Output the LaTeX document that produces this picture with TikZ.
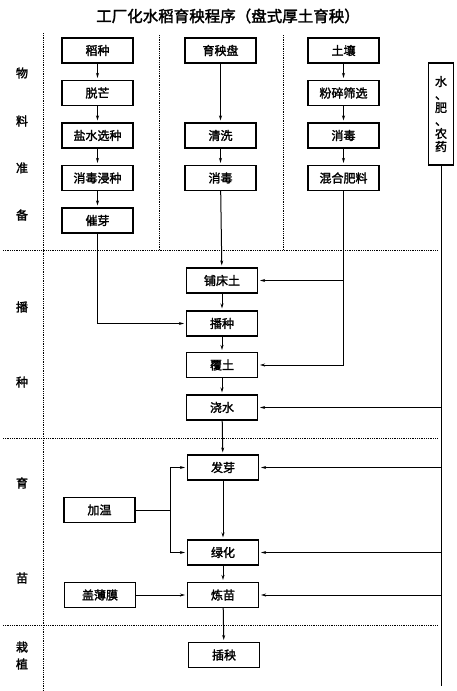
\documentclass[tikz,border=0pt]{standalone}
\usepackage{fontspec}
\newfontfamily\cjk[AutoFakeBold=2]{Noto Sans CJK SC}
\usetikzlibrary{arrows.meta,positioning}

\tikzset{
  stagebox/.style={draw, line width=1.1pt, minimum width=71pt, minimum height=25pt,
                   inner sep=1pt, font=\cjk\bfseries\fontsize{12}{14}\selectfont},
  flow/.style={line width=1pt, -{Stealth[length=5pt,width=3pt]}, shorten >=2pt},
  feed/.style={line width=1pt},
  sepline/.style={densely dotted, thick},
  stagelab/.style={font=\cjk\bfseries\fontsize{12}{14}\selectfont}
}

\begin{document}
\begin{tikzpicture}[x=1pt,y=-1pt]
\useasboundingbox (0,0) rectangle (457,691);
% Title
\node[font=\cjk\bfseries\fontsize{15.5}{18}\selectfont] (title) at (228,16) {工厂化水稻育秧程序（盘式厚土育秧）};
% Dotted separators
\draw[sepline] (43,33) -- (43,691);
\draw[sepline] (159,35) -- (159,250);
\draw[sepline] (283,35) -- (283,250);
\foreach \yy in {250,438,625} {
  \draw[sepline] (3,\yy) -- (438,\yy);
}
% Stage labels on the left
\foreach \txt/\yy in {物/73, 料/121, 准/168, 备/215, 播/307, 种/382, 育/483, 苗/578, 栽/647, 植/664} {
  \node[stagelab] at (22,\yy) {\txt};
}
% Material preparation: seeds
\node[stagebox] (dz)  at (97.5,50.5) {稻种};
\node[stagebox] (tm)  at (97.5,93)   {脱芒};
\node[stagebox] (ysx) at (97.5,135.5) {盐水选种};
\node[stagebox] (xdj) at (97.5,178)  {消毒浸种};
\node[stagebox] (cy)  at (97.5,220.5) {催芽};
% Material preparation: trays
\node[stagebox] (ysp) at (220.5,50.5) {育秧盘};
\node[stagebox] (qx)  at (220.5,135.5) {清洗};
\node[stagebox] (xdp) at (220.5,178)  {消毒};
% Material preparation: soil
\node[stagebox] (tr)  at (343.5,50.5) {土壤};
\node[stagebox] (fs)  at (343.5,93)   {粉碎筛选};
\node[stagebox] (xdt) at (343.5,135.5) {消毒};
\node[stagebox] (hf)  at (343.5,178)  {混合肥料};
% Water, fertiliser, pesticide
\node[draw, line width=1.1pt, minimum width=25pt, minimum height=102pt, inner sep=1pt,
      align=center, font=\cjk\bfseries\fontsize{12}{13}\selectfont]
      (sfn) at (441,114) {水\\、\\肥\\、\\农\\药};
\coordinate (wend) at (441,686);
% Sowing
\node[stagebox] (pct) at (222,280.5) {铺床土};
\node[stagebox] (bz)  at (222,323.5) {播种};
\node[stagebox] (ft)  at (222,365)   {覆土};
\node[stagebox] (js)  at (222,407.5) {浇水};
% Raising seedlings
\node[stagebox] (fy)  at (223,467.5) {发芽};
\node[stagebox] (jw)  at (99.5,510)  {加温};
\node[stagebox] (lh)  at (223,552.5) {绿化};
\node[stagebox] (gbm) at (100,595)   {盖薄膜};
\node[stagebox] (lm)  at (223,595)   {炼苗};
% Transplanting
\node[stagebox] (cyg) at (224,655)   {插秧};
% Seed chain
\draw[flow] (dz) -- (tm);
\draw[flow] (tm) -- (ysx);
\draw[flow] (ysx) -- (xdj);
\draw[flow] (xdj) -- (cy);
\draw[flow] (cy.south) |- (bz.west);
% Tray chain
\draw[flow] (ysp) -- (qx);
\draw[flow] (qx) -- (xdp);
\draw[flow] (xdp) -- (pct);
% Soil chain
\draw[flow] (tr) -- (fs);
\draw[flow] (fs) -- (xdt);
\draw[flow] (xdt) -- (hf);
\draw[flow] (hf.south) |- (ft.east);
\draw[flow] (hf.south |- pct.east) -- (pct.east);
% Main line
\draw[flow] (pct) -- (bz);
\draw[flow] (bz) -- (ft);
\draw[flow] (ft) -- (js);
\draw[flow] (js) -- (fy);
\draw[flow] (fy) -- (lh);
\draw[flow] (lh) -- (lm);
\draw[flow] (lm) -- (cyg);
% Heating and film
\coordinate (jwj) at (170,510);
\draw[feed] (jw.east) -- (jwj);
\draw[flow] (jwj) |- (fy.west);
\draw[flow] (jwj) |- (lh.west);
\draw[flow] (gbm) -- (lm);
% Water feed lines
\draw[feed] (sfn) -- (wend);
\draw[flow] (sfn.south |- js.east) -- (js.east);
\draw[flow] (sfn.south |- fy.east) -- (fy.east);
\draw[flow] (sfn.south |- lh.east) -- (lh.east);
\draw[flow] (sfn.south |- lm.east) -- (lm.east);
\end{tikzpicture}
\end{document}
